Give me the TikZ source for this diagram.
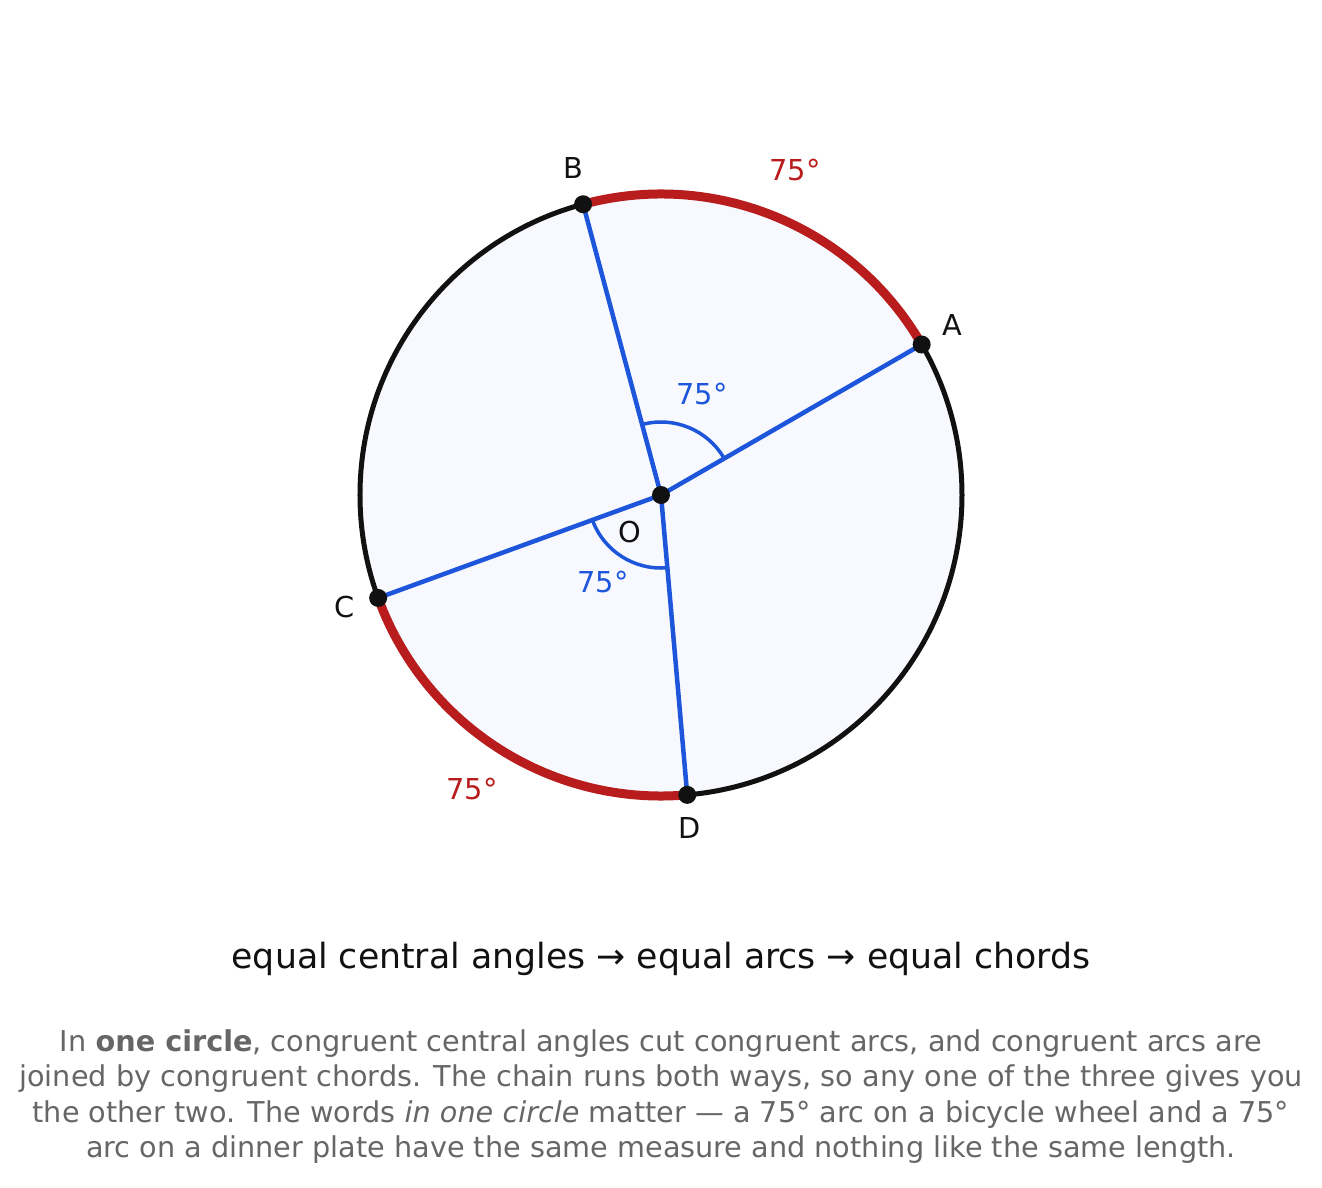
\documentclass[tikz,border=0pt]{standalone}
\usepackage{fontspec}
\setmainfont{DejaVu Sans}
\definecolor{arcred}{HTML}{B91C1C}
\definecolor{rayblue}{HTML}{1D55DB}
\definecolor{inkblack}{HTML}{111111}
\definecolor{diskfill}{HTML}{F7F9FE}
\definecolor{notegray}{HTML}{666666}
\begin{document}
\begin{tikzpicture}[x=1pt,y=1pt,
  ptdot/.style={circle,fill=inkblack,inner sep=0pt,minimum size=18pt},
  ptlabel/.style={font=\fontsize{28.8}{32}\selectfont,text=inkblack},
  anglabel/.style={font=\fontsize{28.8}{32}\selectfont,text=rayblue},
  arclabel/.style={font=\fontsize{28.8}{32}\selectfont,text=arcred},
  ray/.style={draw=rayblue,line width=4.5pt},
  angarc/.style={draw=rayblue,line width=3.5pt},
  redarc/.style={draw=arcred,line width=9pt}]
\useasboundingbox (-661,-692) rectangle (661,495);
\def\R{301}
\coordinate (O) at (0,0);
\coordinate (A) at (30:\R);
\coordinate (B) at (105:\R);
\coordinate (C) at (200:\R);
\coordinate (D) at (275:\R);
% disk
\draw[fill=diskfill,draw=inkblack,line width=5pt] (O) circle (\R);
% red arcs
\draw[redarc] (A) arc[start angle=30,end angle=105,radius=\R];
\draw[redarc] (C) arc[start angle=200,end angle=275,radius=\R];
% rays
\draw[ray] (O) -- (A);
\draw[ray] (O) -- (B);
\draw[ray] (O) -- (C);
\draw[ray] (O) -- (D);
% angle arcs
\draw[angarc] (30:73) arc[start angle=30,end angle=105,radius=73];
\draw[angarc] (200:73) arc[start angle=200,end angle=275,radius=73];
% dots
\node[ptdot] (dO) at (O) {};
\node[ptdot] (dA) at (A) {};
\node[ptdot] (dB) at (B) {};
\node[ptdot] (dC) at (C) {};
\node[ptdot] (dD) at (D) {};
% labels
\node[ptlabel] (lA) at (291,170) {A};
\node[ptlabel] (lB) at (-88,327) {B};
\node[ptlabel] (lC) at (-316,-112) {C};
\node[ptlabel] (lD) at (29,-333) {D};
\node[ptlabel] (lO) at (-31,-37) {O};
\node[anglabel] (ang1) at (41,101) {75°};
\node[anglabel] (ang2) at (-58,-87) {75°};
\node[arclabel] (arc1) at (134,325) {75°};
\node[arclabel] (arc2) at (-189,-294) {75°};
% title
\node[font=\fontsize{34.7}{40}\selectfont,text=inkblack] (title) at (0,-464) {equal central angles → equal arcs → equal chords};
% paragraph
\node[font=\fontsize{28.7}{35.3}\selectfont,text=notegray,align=center,inner sep=0pt] (note) at (0,-601.5)
{In \textbf{one circle}, congruent central angles cut congruent arcs, and congruent arcs are\\
joined by congruent chords. The chain runs both ways, so any one of the three gives you\\
the other two. The words \textit{in one circle} matter — a 75° arc on a bicycle wheel and a 75°\\
arc on a dinner plate have the same measure and nothing like the same length.};
\end{tikzpicture}
\end{document}
